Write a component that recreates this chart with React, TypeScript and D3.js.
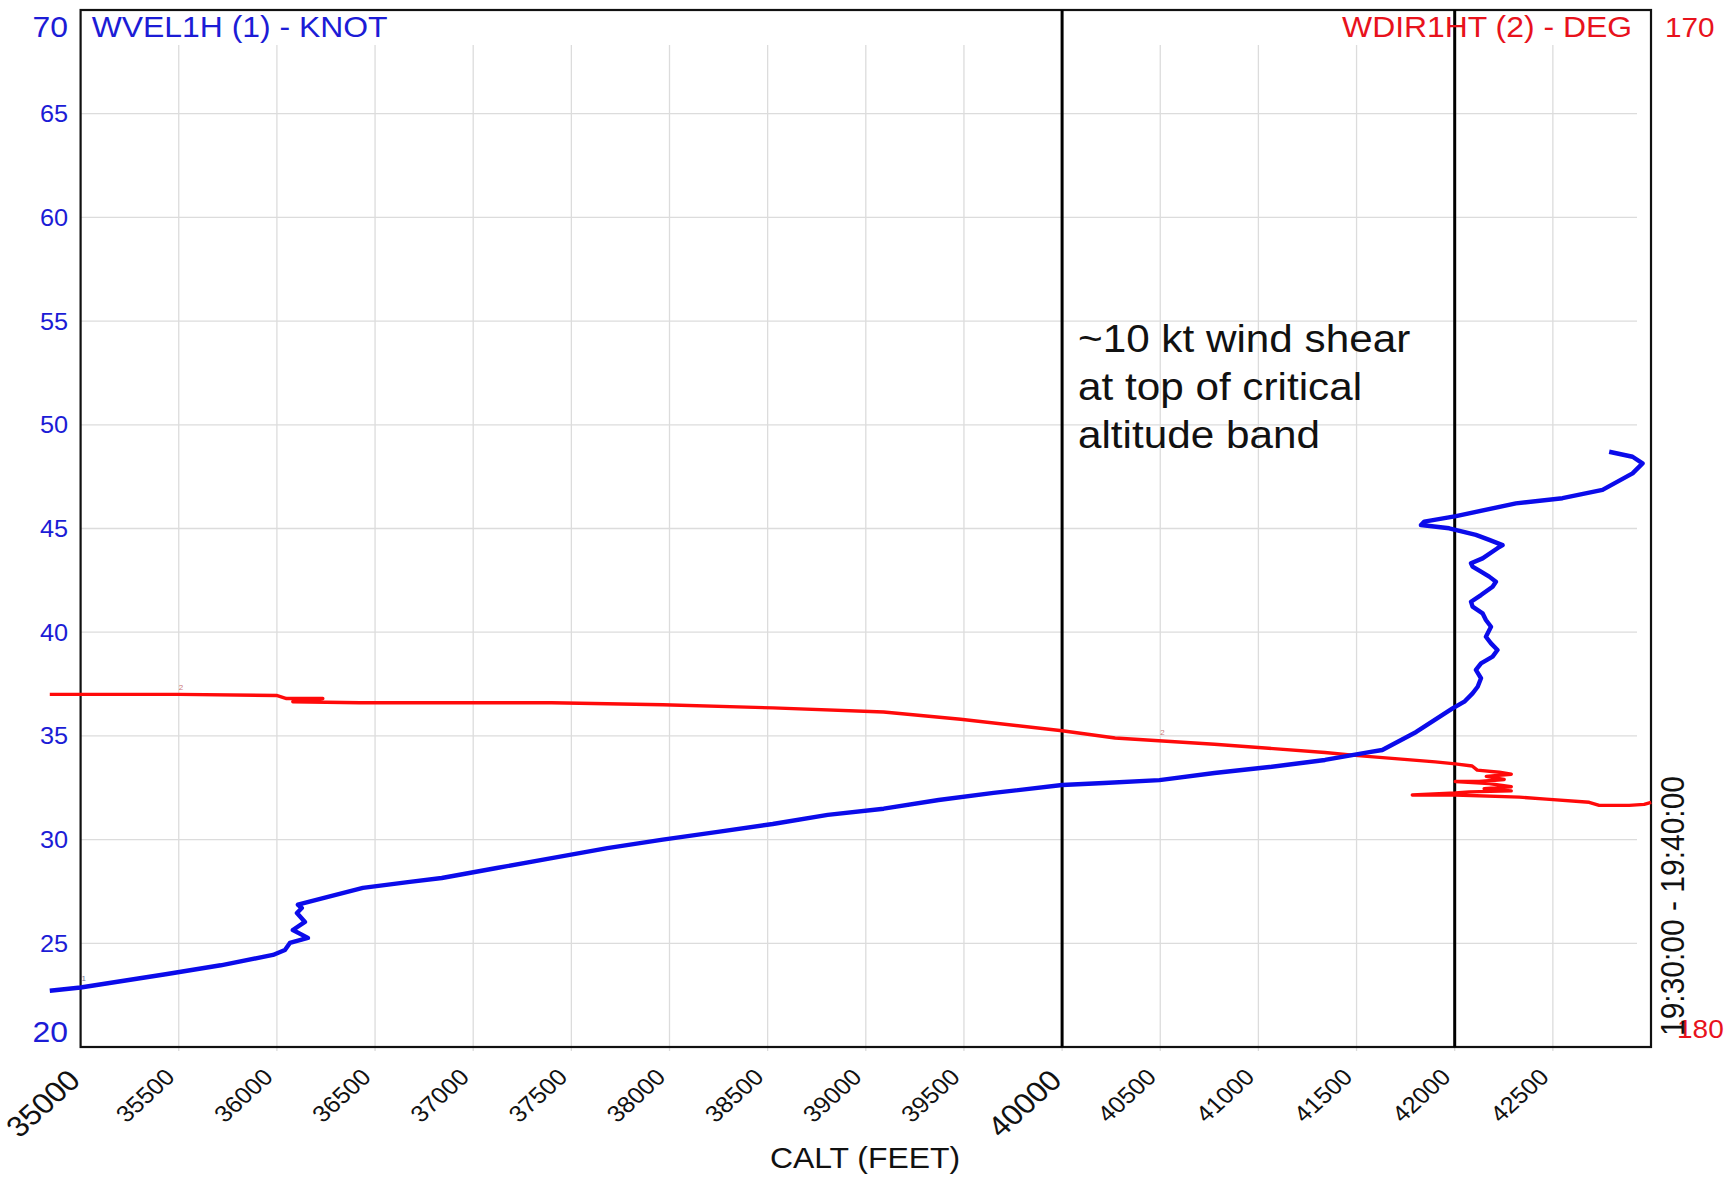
import React from "react";
import * as d3 from "d3";

// ---- data ----
const xTicks = [35000, 35500, 36000, 36500, 37000, 37500, 38000, 38500, 39000, 39500, 40000, 40500, 41000, 41500, 42000, 42500];
const bigXTicks = [35000, 40000];
const yTicks = [20, 25, 30, 35, 40, 45, 50, 55, 60, 65, 70];
const markerLines = [40000, 42000];

const blueAlt = [34843, 35000, 35433, 35714, 35980, 36041, 36066, 36158, 36081, 36143, 36102, 36127, 36107, 36255, 36438, 36677, 36840, 37120, 37400, 37683, 37966, 38246, 38526, 38806, 39091, 39371, 39651, 40000, 40214, 40496, 40776, 41056, 41339, 41565, 41631, 41804, 41989, 42049, 42091, 42117, 42134, 42108, 42134, 42193, 42218, 42185, 42159, 42185, 42159, 42142, 42091, 42083, 42134, 42193, 42210, 42176, 42134, 42091, 42083, 42142, 42218, 42244, 42176, 42108, 41972, 41828, 41845, 42007, 42312, 42549, 42753, 42906, 42957, 42906, 42787];
const blueKnots = [22.71, 22.87, 23.51, 23.94, 24.44, 24.68, 25.02, 25.26, 25.64, 26.03, 26.46, 26.7, 26.86, 27.23, 27.67, 27.96, 28.15, 28.63, 29.11, 29.59, 30.0, 30.37, 30.75, 31.19, 31.49, 31.91, 32.25, 32.63, 32.73, 32.87, 33.21, 33.5, 33.84, 34.22, 34.32, 35.19, 36.33, 36.65, 37.05, 37.37, 37.78, 38.18, 38.5, 38.82, 39.14, 39.46, 39.78, 40.26, 40.59, 40.91, 41.23, 41.47, 41.79, 42.19, 42.43, 42.68, 42.92, 43.16, 43.32, 43.56, 44.05, 44.2, 44.45, 44.69, 45.01, 45.17, 45.33, 45.6, 46.21, 46.46, 46.86, 47.66, 48.14, 48.46, 48.7];

const redAlt = [34843, 35000, 35500, 35998, 36049, 36234, 36081, 36422, 37400, 37966, 38526, 39091, 39483, 40000, 40270, 40776, 41339, 41507, 41901, 42003, 42089, 42115, 42227, 42288, 42161, 42252, 42125, 42003, 42176, 42288, 42150, 42288, 42074, 42003, 41784, 42003, 42329, 42466, 42685, 42736, 42889, 42965, 43001];
const redDeg = [176.6, 176.6, 176.6, 176.61, 176.64, 176.64, 176.67, 176.68, 176.68, 176.7, 176.73, 176.77, 176.84, 176.95, 177.02, 177.08, 177.16, 177.19, 177.25, 177.27, 177.29, 177.33, 177.35, 177.37, 177.39, 177.42, 177.44, 177.44, 177.46, 177.49, 177.51, 177.53, 177.54, 177.55, 177.57, 177.57, 177.59, 177.61, 177.64, 177.67, 177.67, 177.66, 177.64];

const leftTitle = "WVEL1H (1) - KNOT";
const rightTitle = "WDIR1HT (2) - DEG";
const rightTicks = [170, 180];
const xTitle = "CALT (FEET)";
const timeRange = "19:30:00 - 19:40:00";
const annotation = ["~10 kt wind shear", "at top of critical", "altitude band"];

// ---- layout ----
const W = 1732;
const H = 1184;
const L = 80.6;
const R = 1651;
const TOP = 10;
const BOT = 1047;
const FONT = "'Liberation Sans', Arial, Helvetica, sans-serif";
const SX = 1.1;
const BLUE = "#0b0bea";
const BLUE_T = "#1c1cd6";
const RED = "#ff0a0a";
const RED_T = "#e8121c";

const x = d3.scaleLinear().domain([35000, 43000]).range([L, R]);
const yL = d3.scaleLinear().domain([20, 70]).range([BOT, TOP]);
const yR = d3.scaleLinear().domain([170, 180]).range([TOP, BOT]);

const blueLine = d3.line<number>().x((_, i) => x(blueAlt[i])).y((d) => yL(d));
const redLine = d3.line<number>().x((_, i) => x(redAlt[i])).y((d) => yR(d));

function T(props: any) {
  const { x: tx, y: ty, rot, size, fill, anchor, children, sx = SX } = props;
  const tr = `translate(${tx},${ty}) scale(${sx},1)${rot ? ` rotate(${rot})` : ""}`;
  return (
    <text transform={tr} fontSize={size} fill={fill} textAnchor={anchor || "start"} fontFamily={FONT}>
      {children}
    </text>
  );
}

export default function App() {
  return (
    <svg width={W} height={H} style={{ position: "absolute", left: 0, top: 0, background: "#fff" }}>
      <rect x={0} y={0} width={W} height={H} fill="#fff" />
      {/* grid */}
      {xTicks.filter((t) => t > 35000).map((t) => (
        <line key={"gx" + t} x1={x(t)} x2={x(t)} y1={45} y2={BOT + 4} stroke="#dcdcdc" strokeWidth={1.3} />
      ))}
      {yTicks.filter((t) => t > 20 && t < 70).map((t) => (
        <line key={"gy" + t} x1={L} x2={R - 14} y1={yL(t)} y2={yL(t)} stroke="#dcdcdc" strokeWidth={1.3} />
      ))}
      {/* frame */}
      <rect x={L} y={TOP} width={R - L} height={BOT - TOP} fill="none" stroke="#111" strokeWidth={2.2} />
      {/* marker lines */}
      {markerLines.map((m) => (
        <line key={"m" + m} x1={x(m)} x2={x(m)} y1={TOP} y2={BOT} stroke="#000" strokeWidth={3} />
      ))}
      {/* series */}
      <path d={redLine(redDeg) || ""} fill="none" stroke={RED} strokeWidth={3.4} strokeLinejoin="round" />
      <path d={blueLine(blueKnots) || ""} fill="none" stroke={BLUE} strokeWidth={4.4} strokeLinejoin="round" />
      {/* tiny series markers */}
      <text x={x(35500)} y={yR(176.56)} fontSize={8} fill="#c77" fontFamily={FONT}>2</text>
      <text x={x(40500)} y={yR(176.99)} fontSize={8} fill="#c77" fontFamily={FONT}>2</text>
      <text x={x(35000) + 1} y={yL(23.2)} fontSize={8} fill="#779" fontFamily={FONT}>1</text>
      {/* left axis labels */}
      {yTicks.map((t) => {
        const big = t === 20 || t === 70;
        const yy = t === 70 ? 37 : t === 20 ? 1042 : yL(t) + 8.5;
        return (
          <T key={"yl" + t} x={68} y={yy} size={big ? 29 : 23} fill={BLUE_T} anchor="end">
            {t}
          </T>
        );
      })}
      <T x={91.7} y={37.3} size={29} fill={BLUE_T}>{leftTitle}</T>
      <T x={1632} y={37.3} size={29} fill={RED_T} anchor="end">{rightTitle}</T>
      {rightTicks.map((t) => (
        <T key={"yr" + t} x={t === 170 ? 1665 : 1677} y={t === 170 ? 37.3 : 1038} size={t === 170 ? 27 : 25.5} fill={RED_T}>
          {t}
        </T>
      ))}
      {/* x axis labels */}
      {xTicks.map((t) => {
        const big = bigXTicks.includes(t);
        return (
          <T key={"xl" + t} x={x(t) + (big ? 1.5 : -2.5)} y={BOT + (big ? 35 : 31.5)} rot={-45} size={big ? 29 : 23} fill="#111" anchor="end">
            {t}
          </T>
        );
      })}
      <T x={865} y={1168} size={29} fill="#111" anchor="middle">{xTitle}</T>
      {/* time range, vertical */}
      <T x={1684} y={906} rot={-90} size={30} fill="#111" anchor="middle">{timeRange}</T>
      {/* annotation */}
      {annotation.map((s, i) => (
        <T key={"a" + i} x={1078} y={351.7 + i * 48.2} size={38.4} fill="#111">
          {s}
        </T>
      ))}
    </svg>
  );
}
